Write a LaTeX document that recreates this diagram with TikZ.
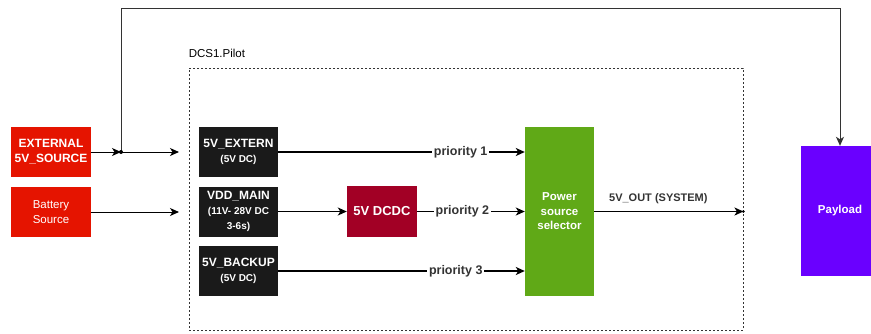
\documentclass[tikz,border=0pt]{standalone}
\usepackage{fontspec}
\setmainfont{Liberation Sans}
\usetikzlibrary{positioning, arrows.meta}

\definecolor{SrcRed}{HTML}{E51400}
\definecolor{DcdcRed}{HTML}{A20025}
\definecolor{SelGreen}{HTML}{60A917}
\definecolor{PayPurple}{HTML}{6A00FF}
\definecolor{PortBlack}{HTML}{1A1A1A}
\definecolor{LblGray}{HTML}{333333}

\newcommand{\MainFont}{\fontsize{12}{15}\selectfont\bfseries}
\newcommand{\SubFont}{\fontsize{10}{15}\selectfont\bfseries}

\begin{document}
\begin{tikzpicture}[
		x=1pt, y=-1pt,
		BoxCfg/.style={
			text=white, align=center, font=\MainFont, inner sep=0pt
		},
		SrcCfg/.style={BoxCfg, fill=SrcRed, minimum width=80pt, minimum height=50pt},
		PortCfg/.style={BoxCfg, fill=PortBlack, minimum width=79pt, minimum height=50pt},
		TipCfg/.style={-{Stealth[length=9pt, width=8pt, inset=2.5pt]}},
		WireCfg/.style={TipCfg, line width=1.6pt},
		PrioCfg/.style={fill=white, text=LblGray, inner sep=2pt,
			font=\fontsize{12.5}{14}\selectfont\bfseries}
		]
		
		\useasboundingbox (0,0) rectangle (871,333);
		
		\path
		(466,199) node [draw=LblGray, line width=0.9pt, dash pattern=on 2pt off 2pt,
			minimum width=554pt, minimum height=262pt,
			label={[anchor=south west, inner sep=0pt, yshift=10pt,
				font=\fontsize{11.5}{14}\selectfont]north west:DCS1.Pilot}] (PILOT) {};
		
		\path 
		(51,152) node [SrcCfg] (EXTSRC) {EXTERNAL\\5V\_SOURCE}
		++ (0,60) node [SrcCfg, font=\fontsize{11.5}{15}\selectfont] (BATSRC) {Battery\\Source}
		(238.5,152) node [PortCfg] (EXTERN) {5V\_EXTERN\\\SubFont (5V DC)}
		++ (0,59.5) node [PortCfg] (VDDMAIN) {VDD\_MAIN\\\SubFont (11V- 28V DC\\\SubFont 3-6s)}
		++ (0,59.5) node [PortCfg] (BACKUP) {5V\_BACKUP\\\SubFont (5V DC)}
		(382,211.5) node [BoxCfg, fill=DcdcRed, minimum width=70pt, minimum height=51pt,
			font=\fontsize{13}{15}\selectfont\bfseries] (DCDC) {5V DCDC}
		(559.5,211.5) node [BoxCfg, fill=SelGreen, minimum width=69pt, minimum height=169pt,
			font=\fontsize{11.5}{14.5}\selectfont\bfseries] (SELECTOR) {Power\\source\\selector}
		(840,211) node [BoxCfg, fill=PayPurple, minimum width=78pt, minimum height=130pt,
			font=\fontsize{11.5}{14}\selectfont\bfseries] (PAYLOAD) {Payload};
		
		\coordinate (JUNC) at (121,152);
		\coordinate (EXTIN) at (179,152);
		\coordinate (BATIN) at (179,212);
		\coordinate (OUTEND) at (SELECTOR.east -| PILOT.east);
		
		\draw [TipCfg, line width=1pt]
		(EXTSRC.east) -- (JUNC);
		\draw [TipCfg, line width=1pt]
		(JUNC) -- (EXTIN);
		\draw [TipCfg, line width=1pt]
		(BATSRC.east |- BATIN) -- (BATIN);
		\draw [TipCfg, line width=0.9pt, draw=LblGray]
		(JUNC) -- ++ (0,-144) -| (PAYLOAD.north);
		\fill (JUNC) circle (2pt);
		
		\draw [WireCfg]
		(EXTERN.east) -- (EXTERN.east -| SELECTOR.west) node [PrioCfg, pos=0.74] {priority 1};
		\draw [WireCfg]
		(VDDMAIN.east) -- (DCDC.west);
		\draw [WireCfg]
		(DCDC.east) -- (SELECTOR.west) node [PrioCfg, pos=0.42] {priority 2};
		\draw [WireCfg]
		(BACKUP.east) -- (BACKUP.east -| SELECTOR.west) node [PrioCfg, pos=0.72] {priority 3};
		
		\draw [WireCfg]
		(SELECTOR.east) -- (OUTEND) node [pos=0.43, above, yshift=4pt, text=LblGray,
			font=\fontsize{11}{13}\selectfont\bfseries] {5V\_OUT (SYSTEM)};
		\fill (OUTEND) circle (1.5pt);
		\end{tikzpicture}
\end{document}
